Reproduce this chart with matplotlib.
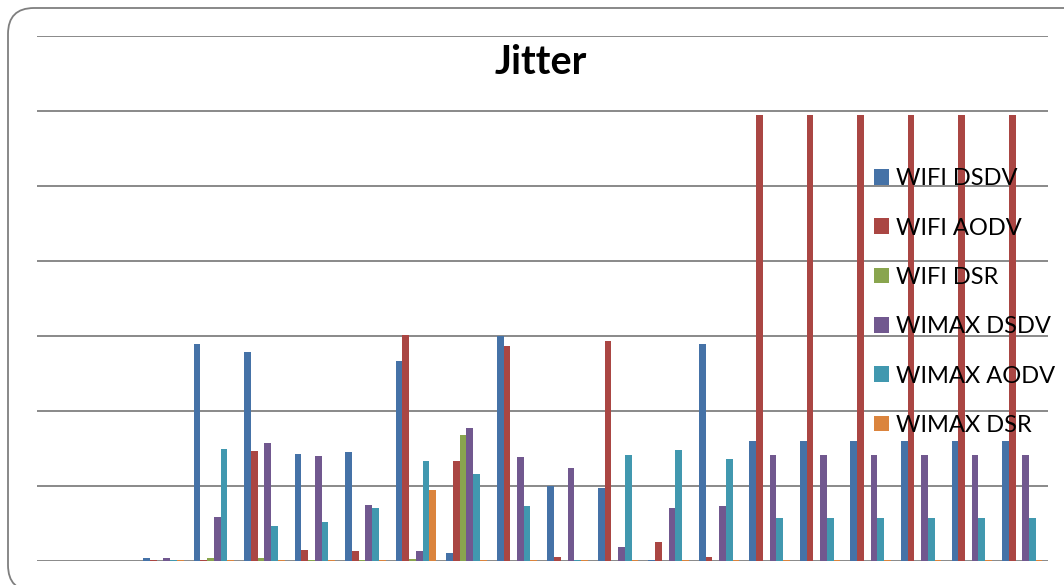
import matplotlib
matplotlib.use("Agg")
import matplotlib.pyplot as plt
import numpy as np
from matplotlib.patches import FancyBboxPatch
from matplotlib.transforms import IdentityTransform

# jitter per scenario (20 runs, first two are empty)
wifi_dsdv = [0, 0, 0.04, 2.89, 2.79, 1.43, 1.46, 2.67, 0.11, 3.00,
             1.00, 0.97, 0.02, 2.89, 1.60, 1.60, 1.60, 1.60, 1.60, 1.60]
wifi_aodv = [0, 0, 0.02, 0.02, 1.47, 0.15, 0.14, 3.01, 1.34, 2.87,
             0.05, 2.93, 0.26, 0.05, 5.95, 5.95, 5.95, 5.95, 5.95, 5.95]
wifi_dsr = [0, 0, 0, 0.045, 0.035, 0.02, 0.02, 0.03, 1.68, 0,
            0, 0, 0, 0, 0, 0, 0, 0, 0, 0]
wimax_dsdv = [0, 0, 0.04, 0.59, 1.58, 1.40, 0.75, 0.13, 1.78, 1.39,
              1.24, 0.19, 0.71, 0.74, 1.42, 1.42, 1.42, 1.42, 1.42, 1.42]
wimax_aodv = [0, 0, 0.02, 1.49, 0.47, 0.52, 0.71, 1.33, 1.16, 0.74,
              0.02, 1.41, 1.48, 1.36, 0.57, 0.57, 0.57, 0.57, 0.57, 0.57]
wimax_dsr = [0, 0, 0.01, 0.01, 0.01, 0.01, 0.02, 0.95, 0.01, 0.01,
             0.01, 0.01, 0.01, 0.01, 0.01, 0.01, 0.01, 0.01, 0.01, 0.01]

labels = ["WIFI DSDV", "WIFI AODV", "WIFI DSR", "WIMAX DSDV", "WIMAX AODV", "WIMAX DSR"]
colors = ["#4572A7", "#AA4643", "#89A54E", "#71588F", "#4198AF", "#DB843D"]
series = [wifi_dsdv, wifi_aodv, wifi_dsr, wimax_dsdv, wimax_aodv, wimax_dsr]

plt.rcParams['font.family'] = ['Lato', 'DejaVu Sans']

fig = plt.figure(figsize=(10.64, 5.85), dpi=100)
ax = fig.add_axes([37/1064, 1 - 561/585, (1047.5 - 37)/1064, (561 - 36)/585])

x = np.arange(len(wifi_dsdv))
w = 1 / 7.5
handles = []
for i, (vals, c, lab) in enumerate(zip(series, colors, labels)):
    b = ax.bar(x + (i - 2.5) * w, vals, width=w, color=c, label=lab, zorder=3)
    handles.append(b)

ax.set_xlim(-0.5, len(x) - 0.5)
ax.set_ylim(0, 7)
ax.set_yticks(range(8))
ax.set_xticks([])
ax.tick_params(left=False, labelleft=False)
ax.grid(axis='y', color='#808080', linewidth=1.3)
ax.set_axisbelow(True)
for s in ax.spines.values():
    s.set_visible(False)

fig.text(541/1064, 1 - 62/585, "Jitter", ha='center', va='center',
         fontsize=28.5, fontweight='bold')

ax.legend(handles=handles, loc='center left', bbox_to_anchor=(874/1064, 1 - 302/585),
          bbox_transform=fig.transFigure, frameon=False, fontsize=17,
          handlelength=0.65, handleheight=0.65, handletextpad=0.3,
          labelspacing=1.2, borderpad=0, borderaxespad=0)

# rounded chart frame, runs off the right and bottom edges
frame = FancyBboxPatch((8, -6), 1100, 585 - 8 + 6,
                       boxstyle="round,pad=0,rounding_size=26",
                       transform=IdentityTransform(), fill=False,
                       edgecolor='#7f7f7f', linewidth=1.3)
fig.patches.append(frame)

fig.savefig("out.png", dpi=100)
